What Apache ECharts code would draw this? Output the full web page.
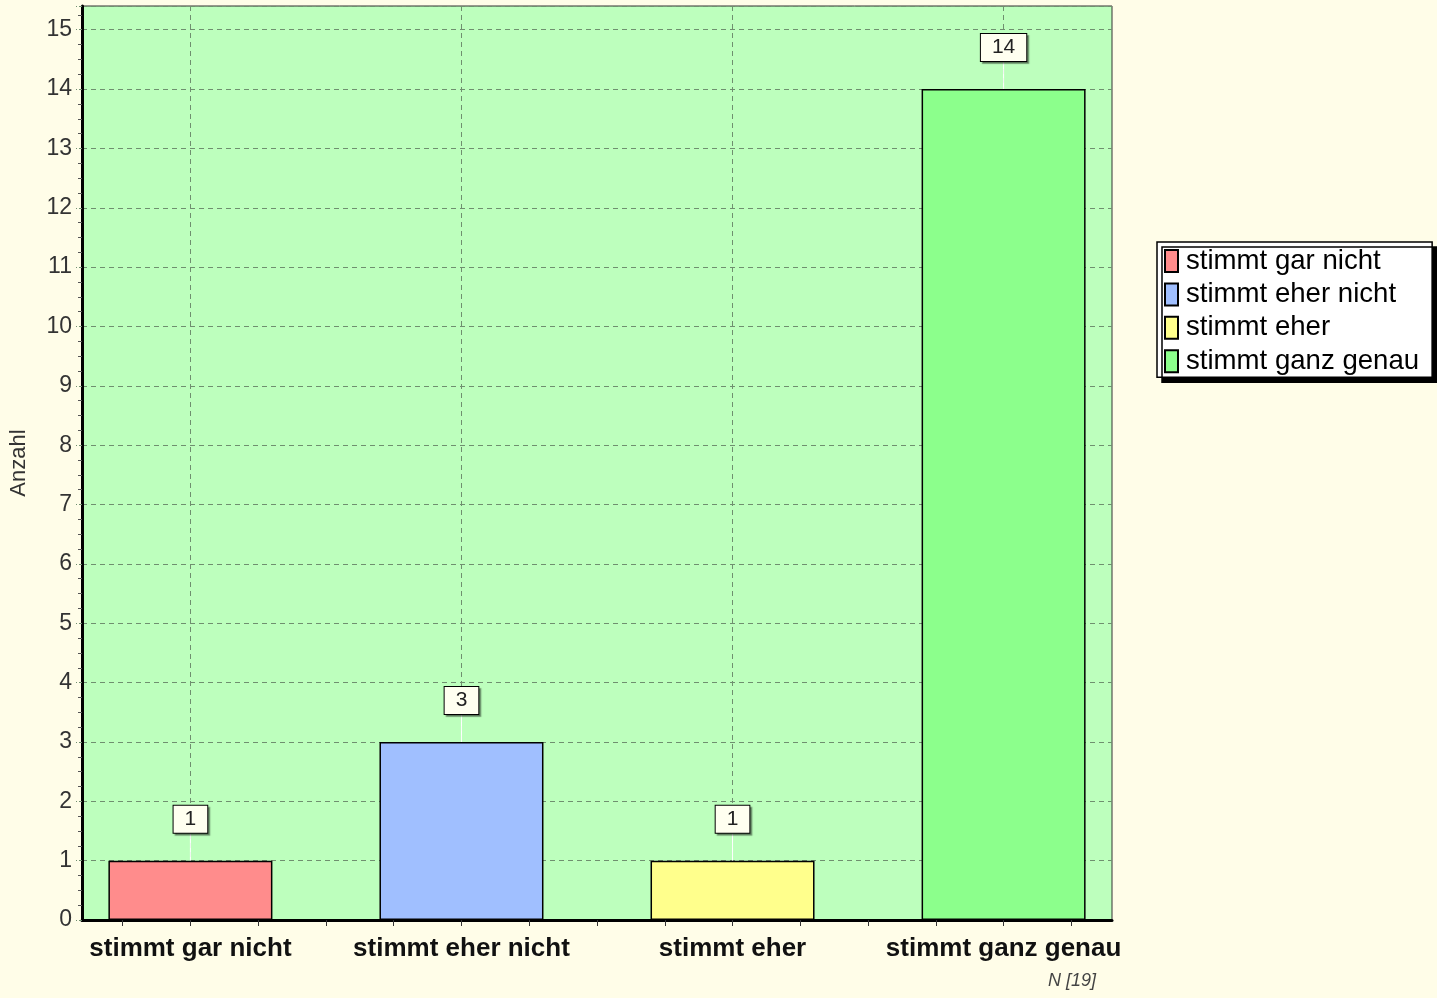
<!DOCTYPE html>
<html>
<head>
<meta charset="utf-8">
<script src="https://cdn.jsdelivr.net/npm/echarts@6/dist/echarts.min.js"></script>
<style>
html,body{margin:0;padding:0;background:#fffde8;}
#c{width:1437px;height:998px;}
</style>
</head>
<body>
<div id="c"></div>
<script>
const categories = ['stimmt gar nicht', 'stimmt eher nicht', 'stimmt eher', 'stimmt ganz genau'];
const counts = [1, 3, 1, 14];
const barColors = ['#ff8c8c', '#a0bfff', '#ffff8c', '#8cff8c'];
const yTicks = [0,1,2,3,4,5,6,7,8,9,10,11,12,13,14,15];
const totalN = 19;

const catIdx = categories.map((c, i) => i);
// quarter-category tick positions across the axis
const quarterTicks = [];
for (let k = -1; k <= (categories.length - 1) * 4 + 1; k++) quarterTicks.push(k / 4);

const chart = echarts.init(document.getElementById('c'), null, {renderer: 'canvas'});

const series = categories.map((name, i) => ({
  name: name,
  type: 'bar',
  xAxisIndex: 0,
  yAxisIndex: 0,
  barWidth: 164,
  barGap: '-100%',
  data: [[i, counts[i]]],
  itemStyle: {color: barColors[i], borderColor: '#000', borderWidth: 1.5},
  label: {
    show: true,
    position: 'top',
    distance: 0,
    formatter: p => String(p.value[1]),
    fontFamily: 'Arial, "Liberation Sans", sans-serif',
    fontSize: 21,
    color: '#222',
    backgroundColor: '#fffff0',
    borderColor: '#000',
    borderWidth: 1,
    padding: [3, 11, 3, 11],
    shadowColor: 'rgba(0,0,0,0.35)',
    shadowOffsetX: 2,
    shadowOffsetY: 2,
    shadowBlur: 1
  },
  labelLayout: {dy: -28},
  labelLine: {show: true, lineStyle: {color: '#ffffff', width: 1}},
  emphasis: {disabled: true}
}));

const option = {
  backgroundColor: '#fffde8',
  animation: false,
  grid: {
    left: 80, right: 325, top: 6, bottom: 78,
    show: true,
    backgroundColor: '#bdffbd',
    borderColor: '#333',
    borderWidth: 1
  },
  legend: {
    orient: 'vertical',
    left: 1157,
    top: 242,
    data: categories,
    itemWidth: 13,
    itemHeight: 22,
    itemGap: 5.4,
    padding: [5, 13, 2, 7],
    backgroundColor: '#ffffff',
    borderColor: '#000',
    borderWidth: 1.5,
    shadowColor: '#000',
    shadowBlur: 0,
    shadowOffsetX: 5,
    shadowOffsetY: 5,
    icon: 'rect',
    selectedMode: false,
    textStyle: {
      fontFamily: 'Arial, "Liberation Sans", sans-serif',
      fontSize: 27.6,
      color: '#000',
      padding: [0, 0, 0, 3]
    }
  },
  xAxis: [
    {
      type: 'value',
      min: -0.4,
      max: 3.4,
      position: 'bottom',
      axisLine: {show: true, onZero: false, lineStyle: {color: '#000', width: 3}},
      axisTick: {show: true, length: 6, customValues: quarterTicks, lineStyle: {color: '#333', width: 1}},
      splitLine: {show: false},
      axisLabel: {
        show: true,
        margin: 16,
        customValues: catIdx,
        fontFamily: 'Arial, "Liberation Sans", sans-serif',
        fontWeight: 'bold',
        fontSize: 26,
        color: '#111',
        formatter: v => categories[Math.round(v)] || ''
      }
    },
    {
      type: 'value',
      min: -0.4,
      max: 3.4,
      position: 'bottom',
      axisLine: {show: false},
      axisTick: {show: false, customValues: catIdx},
      axisLabel: {show: false, customValues: catIdx},
      splitLine: {show: true, lineStyle: {color: '#6f8f6f', type: [5, 4], width: 1}}
    }
  ],
  yAxis: {
    type: 'value',
    min: 0,
    max: 15.4,
    interval: 1,
    name: 'Anzahl',
    nameLocation: 'middle',
    nameGap: 52,
    nameRotate: 90,
    nameTextStyle: {
      fontFamily: 'Arial, "Liberation Sans", sans-serif',
      fontSize: 22,
      color: '#333'
    },
    axisLine: {show: true, onZero: false, lineStyle: {color: '#000', width: 3}},
    axisTick: {show: true, length: 6, lineStyle: {color: '#6f8f6f', width: 1, type: [3, 2]}},
    minorTick: {show: true, splitNumber: 4, length: 4, lineStyle: {color: '#555', width: 1}},
    axisLabel: {
      margin: 10,
      fontFamily: 'Arial, "Liberation Sans", sans-serif',
      fontSize: 23,
      color: '#333',
      showMaxLabel: false,
      formatter: v => (yTicks.indexOf(v) >= 0 ? String(v) : '')
    },
    splitLine: {show: true, lineStyle: {color: '#6f8f6f', type: [5, 4], width: 1}}
  },
  graphic: [
    {
      type: 'text',
      left: 1048,
      top: 972,
      style: {
        text: 'N [' + totalN + ']',
        font: 'italic 18px Arial, "Liberation Sans", sans-serif',
        fill: '#444'
      }
    }
  ],
  series: series
};

chart.setOption(option);
</script>
</body>
</html>
